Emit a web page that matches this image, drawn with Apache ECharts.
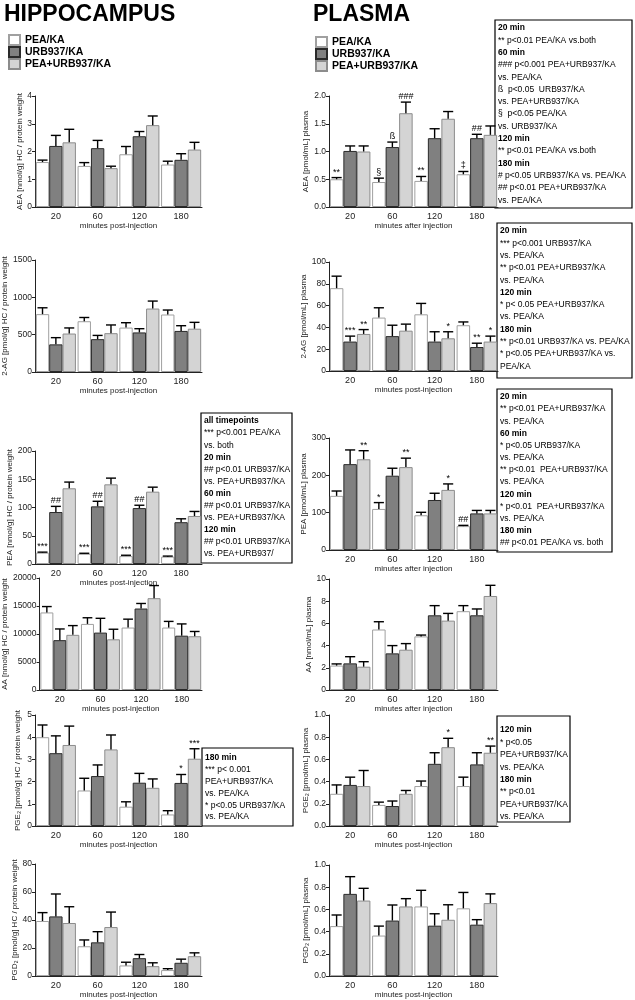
<!DOCTYPE html>
<html>
<head>
<meta charset="utf-8">
<title>Hippocampus / Plasma</title>
<script src="https://cdn.jsdelivr.net/npm/echarts@6/dist/echarts.min.js"></script>
<style>
  html, body { margin: 0; padding: 0; background: #fff; }
  #chart { width: 635px; height: 1000px; }
</style>
</head>
<body>
<div id="chart"></div>
<script>
const categories = ['20', '60', '120', '180'];
const seriesNames = ['PEA/KA', 'URB937/KA', 'PEA+URB937/KA'];

// hippocampus (rows: PEA/KA, URB937/KA, PEA+URB937/KA)
const aeaHcMean = [[1.62, 1.48, 1.90, 1.53], [2.20, 2.12, 2.55, 1.70], [2.33, 1.40, 2.95, 2.07]];
const aeaHcErr = [[0.07, 0.12, 0.28, 0.12], [0.38, 0.28, 0.17, 0.22], [0.47, 0.07, 0.33, 0.26]];

const agHcMean = [[775, 680, 595, 770], [370, 440, 530, 550], [515, 520, 850, 580]];
const agHcErr = [[85, 50, 65, 60], [90, 50, 50, 70], [75, 110, 100, 85]];

const peaHcMean = [[20, 18, 14, 13], [92, 102, 99, 74], [134, 141, 128, 85]];
const peaHcErr = [[1, 1, 1.5, 1], [10, 9, 5, 6], [11, 11, 8, 8]];
const peaHcSig = [['***', '***', '***', '***'], ['##', '##', '##', ''], ['', '', '', '']];

const aaHcMean = [[13850, 11800, 11150, 11150], [8900, 10250, 14550, 9700], [9850, 9050, 16400, 9600]];
const aaHcErr = [[1050, 1100, 1500, 1100], [2000, 2550, 900, 2100], [1650, 1800, 2250, 850]];

const pge2HcMean = [[4.0, 1.6, 0.87, 0.52], [3.28, 2.25, 1.95, 1.94], [3.65, 3.45, 1.72, 3.03]];
const pge2HcErr = [[0.55, 0.55, 0.22, 0.17], [0.78, 0.5, 0.42, 0.38], [0.85, 0.65, 0.4, 0.45]];
const pge2HcSig = [['', '', '', ''], ['', '', '', '*'], ['', '', '', '***']];

const pgd2HcMean = [[39.3, 21.3, 7.6, 4.3], [42.6, 24.1, 12.8, 9.5], [37.9, 35, 7.1, 14.2]];
const pgd2HcErr = [[6, 4.5, 2.3, 1], [16, 7.6, 2.6, 2.6], [11.6, 10.7, 2.4, 2.4]];

// plasma
const aeaPlMean = [[0.50, 0.45, 0.47, 0.59], [1.01, 1.08, 1.24, 1.24], [1.00, 1.69, 1.59, 1.30]];
const aeaPlErr = [[0.03, 0.07, 0.08, 0.05], [0.09, 0.09, 0.17, 0.07], [0.10, 0.20, 0.13, 0.16]];
const aeaPlSig = [['**', '§', '**', '‡'], ['', 'ß', '', '##'], ['', '###', '', '']];

const agPlMean = [[76, 49, 52, 42], [27, 32, 27, 22], [34, 37, 30, 27]];
const agPlErr = [[11, 9, 10, 3], [5, 10, 9, 3.5], [4, 6, 6, 5]];
const agPlSig = [['', '', '', ''], ['***', '', '', '**'], ['**', '', '*', '*']];

const peaPlMean = [[145, 110, 93, 64], [230, 199, 134, 98], [243, 222, 161, 98]];
const peaPlErr = [[13, 17, 8, 2], [38, 20, 18, 8], [23, 24, 16, 8]];
const peaPlSig = [['', '*', '', '##'], ['', '', '', ''], ['**', '**', '*', '']];

const aaPlMean = [[2.2, 5.45, 4.83, 7.1], [2.4, 3.3, 6.73, 6.73], [2.1, 3.63, 6.25, 8.47]];
const aaPlErr = [[0.15, 0.7, 0.12, 0.5], [0.6, 0.7, 0.87, 0.57], [0.45, 0.55, 0.65, 0.96]];

const pge2PlMean = [[0.29, 0.19, 0.36, 0.36], [0.37, 0.18, 0.56, 0.555], [0.36, 0.29, 0.71, 0.66]];
const pge2PlErr = [[0.08, 0.025, 0.045, 0.08], [0.07, 0.045, 0.10, 0.105], [0.14, 0.03, 0.08, 0.06]];
const pge2PlSig = [['', '', '', ''], ['', '', '', ''], ['', '', '*', '**']];

const pgd2PlMean = [[0.45, 0.365, 0.627, 0.61], [0.74, 0.50, 0.454, 0.463], [0.68, 0.627, 0.507, 0.657]];
const pgd2PlErr = [[0.10, 0.085, 0.145, 0.143], [0.155, 0.14, 0.107, 0.045], [0.11, 0.07, 0.135, 0.083]];

const noSig = [['', '', '', ''], ['', '', '', ''], ['', '', '', '']];

// statistics boxes
const boxAeaPlasma = ['20 min', '** p<0.01 PEA/KA vs.both', '60 min', '### p<0.001 PEA+URB937/KA', 'vs. PEA/KA',
  'ß  p<0.05  URB937/KA', 'vs. PEA+URB937/KA', '§  p<0.05 PEA/KA', 'vs. URB937/KA', '120 min',
  '** p<0.01 PEA/KA vs.both', '180 min', '# p<0.05 URB937/KA vs. PEA/KA', '## p<0.01 PEA+URB937/KA', 'vs. PEA/KA'];
const boxAgPlasma = ['20 min', '*** p<0.001 URB937/KA', 'vs. PEA/KA', '** p<0.01 PEA+URB937/KA', 'vs. PEA/KA',
  '120 min', '* p< 0.05 PEA+URB937/KA', 'vs. PEA/KA', '180 min', '** p<0.01 URB937/KA vs. PEA/KA',
  '* p<0.05 PEA+URB937/KA vs.', 'PEA/KA'];
const boxPeaHc = ['all timepoints', '*** p<0.001 PEA/KA', 'vs. both', '20 min', '## p<0.01 URB937/KA',
  'vs. PEA+URB937/KA', '60 min', '## p<0.01 URB937/KA', 'vs. PEA+URB937/KA', '120 min',
  '## p<0.01 URB937/KA', 'vs. PEA+URB937/'];
const boxPeaPlasma = ['20 min', '** p<0.01 PEA+URB937/KA', 'vs. PEA/KA', '60 min', '* p<0.05 URB937/KA',
  'vs. PEA/KA', '** p<0.01  PEA+URB937/KA', 'vs. PEA/KA', '120 min', '* p<0.01  PEA+URB937/KA',
  'vs. PEA/KA', '180 min', '## p<0.01 PEA/KA vs. both'];
const boxPge2Hc = ['180 min', '*** p< 0.001', 'PEA+URB937/KA', 'vs. PEA/KA', '* p<0.05 URB937/KA', 'vs. PEA/KA'];
const boxPge2Plasma = ['120 min', '* p<0.05', 'PEA+URB937/KA', 'vs. PEA/KA', '180 min', '** p<0.01',
  'PEA+URB937/KA', 'vs. PEA/KA'];

const panels = [
  { mean: aeaHcMean, err: aeaHcErr, sig: noSig, yName: 'AEA [nmol/g] HC / protein weight', xName: 'minutes post-injection', max: 4, step: 1, digits: 0 },
  { mean: agHcMean, err: agHcErr, sig: noSig, yName: '2-AG [pmol/g] HC / protein weight', xName: 'minutes post-injection', max: 1500, step: 500, digits: 0 },
  { mean: peaHcMean, err: peaHcErr, sig: peaHcSig, yName: 'PEA [nmol/g] HC / protein weight', xName: 'minutes post-injection', max: 200, step: 50, digits: 0 },
  { mean: aaHcMean, err: aaHcErr, sig: noSig, yName: 'AA [nmol/g] HC / protein weight', xName: 'minutes post-injection', max: 20000, step: 5000, digits: 0 },
  { mean: pge2HcMean, err: pge2HcErr, sig: pge2HcSig, yName: 'PGE₂ [pmol/g] HC / protein weight', xName: 'minutes post-injection', max: 5, step: 1, digits: 0 },
  { mean: pgd2HcMean, err: pgd2HcErr, sig: noSig, yName: 'PGD₂ [pmol/g] HC / protein weight', xName: 'minutes post-injection', max: 80, step: 20, digits: 0 },
  { mean: aeaPlMean, err: aeaPlErr, sig: aeaPlSig, yName: 'AEA [pmol/mL] plasma', xName: 'minutes after injection', max: 2, step: 0.5, digits: 1 },
  { mean: agPlMean, err: agPlErr, sig: agPlSig, yName: '2-AG [pmol/mL] plasma', xName: 'minutes post-injection', max: 100, step: 20, digits: 0 },
  { mean: peaPlMean, err: peaPlErr, sig: peaPlSig, yName: 'PEA [pmol/mL] plasma', xName: 'minutes after injection', max: 300, step: 100, digits: 0 },
  { mean: aaPlMean, err: aaPlErr, sig: noSig, yName: 'AA [nmol/mL] plasma', xName: 'minutes after injection', max: 10, step: 2, digits: 0 },
  { mean: pge2PlMean, err: pge2PlErr, sig: pge2PlSig, yName: 'PGE₂ [pmol/mL] plasma', xName: 'minutes post-injection', max: 1, step: 0.2, digits: 1 },
  { mean: pgd2PlMean, err: pgd2PlErr, sig: noSig, yName: 'PGD₂ [pmol/mL] plasma', xName: 'minutes post-injection', max: 1, step: 0.2, digits: 1 }
];

const layout = [
  { left: 35, top: 96, height: 111, nameGap: 10 },
  { left: 35, top: 260, height: 112, nameGap: 18 },
  { left: 35, top: 451, height: 113, nameGap: 18 },
  { left: 35, top: 578, height: 112, nameGap: 24 },
  { left: 35, top: 715, height: 111, nameGap: 13 },
  { left: 35, top: 864, height: 113, nameGap: 14 },
  { left: 329, top: 96, height: 111, nameGap: 10 },
  { left: 329, top: 262, height: 109, nameGap: 18 },
  { left: 329, top: 438, height: 112, nameGap: 17 },
  { left: 329, top: 579, height: 111, nameGap: 12 },
  { left: 329, top: 715, height: 111, nameGap: 15 },
  { left: 329, top: 865, height: 112, nameGap: 18 }
];

const FONT = "'Liberation Sans', Arial, sans-serif";
const barStyles = [
  { color: '#ffffff', borderColor: '#a0a0a0', borderWidth: 1 },
  { color: '#808080', borderColor: '#2a2a2a', borderWidth: 1 },
  { color: '#d4d4d4', borderColor: '#8c8c8c', borderWidth: 1 }
];
const CAT_GAP = 0.04;

function errorRenderer(panel) {
  return function (params, api) {
    const cat = api.value(0), k = api.value(1), val = api.value(2), e = api.value(3);
    const base = api.coord([cat, val]);
    const top = api.coord([cat, val + e]);
    const band = api.size([1, 0])[0];
    const bw = band * (1 - CAT_GAP) / 3;
    const x = base[0] + (k - 1) * bw;
    const cap = bw * 0.75;
    const children = [];
    if (e > 0) {
      children.push({ type: 'line', shape: { x1: x, y1: base[1], x2: x, y2: top[1] }, style: { stroke: '#000', lineWidth: 1.4 } });
      children.push({ type: 'line', shape: { x1: x - cap / 2, y1: top[1], x2: x + cap / 2, y2: top[1] }, style: { stroke: '#000', lineWidth: 1.4 } });
    }
    const s = panel.sig[k][cat];
    if (s) {
      children.push({ type: 'text', x: x, y: top[1] - 1, style: { text: s, align: 'center', verticalAlign: 'bottom', font: '9px ' + FONT, fill: '#000' } });
    }
    return { type: 'group', children: children };
  };
}

function statBox(x, y, w, h, lines, firstY, lh) {
  const children = [{ type: 'rect', shape: { x: x, y: y, width: w, height: h }, style: { fill: '#fff', stroke: '#000', lineWidth: 1.2 } }];
  lines.forEach((t, i) => {
    const bold = /^(\d+ min|all timepoints)$/.test(t);
    children.push({
      type: 'text', x: x + 3, y: firstY + i * lh,
      style: { text: t, font: (bold ? 'bold ' : '') + '8.5px ' + FONT, fill: '#000', verticalAlign: 'middle' }
    });
  });
  return { type: 'group', z: 100, children: children };
}

const grids = [], xAxes = [], yAxes = [], series = [];
panels.forEach((p, g) => {
  const L = layout[g];
  grids.push({ left: L.left, top: L.top, width: L.left < 100 ? 167 : 169, height: L.height });
  xAxes.push({
    type: 'category', gridIndex: g, data: categories,
    name: p.xName, nameLocation: 'middle', nameGap: 14,
    nameTextStyle: { fontSize: 8, color: '#222', fontFamily: FONT },
    axisLine: { show: true, lineStyle: { color: '#222', width: 1 } },
    axisTick: { show: false },
    axisLabel: { fontSize: 9, color: '#222', margin: 5, fontFamily: FONT }
  });
  yAxes.push({
    type: 'value', gridIndex: g, min: 0, max: p.max, interval: p.step,
    name: p.yName, nameLocation: 'middle', nameGap: L.nameGap,
    nameTextStyle: { fontSize: 8, color: '#222', fontFamily: FONT },
    axisLine: { show: true, lineStyle: { color: '#222', width: 1 } },
    axisTick: { show: true, length: 3, lineStyle: { color: '#222' } },
    splitLine: { show: false },
    axisLabel: { fontSize: 8.5, color: '#222', margin: 3, fontFamily: FONT,
      formatter: v => v.toFixed(p.digits) }
  });
  for (let k = 0; k < 3; k++) {
    series.push({
      type: 'bar', name: seriesNames[k], xAxisIndex: g, yAxisIndex: g,
      data: p.mean[k], barGap: '0%', barCategoryGap: (CAT_GAP * 100) + '%',
      itemStyle: barStyles[k], silent: true
    });
  }
  const errData = [];
  for (let k = 0; k < 3; k++) {
    for (let c = 0; c < categories.length; c++) errData.push([c, k, p.mean[k][c], p.err[k][c]]);
  }
  series.push({
    type: 'custom', xAxisIndex: g, yAxisIndex: g, data: errData, z: 5,
    encode: { x: 0, y: 2 }, renderItem: errorRenderer(p), clip: false, silent: true
  });
});

const legendBase = {
  orient: 'vertical', data: seriesNames, icon: 'rect', itemWidth: 11, itemHeight: 10,
  itemGap: 0, padding: 0, selectedMode: false,
  textStyle: { fontSize: 10.5, fontWeight: 'bold', color: '#000', fontFamily: FONT, lineHeight: 11.5 }
};

const option = {
  animation: false,
  backgroundColor: '#fff',
  title: [
    { text: 'HIPPOCAMPUS', left: 4, top: 3, padding: 0, textStyle: { fontSize: 23, fontWeight: 'bold', color: '#000', fontFamily: FONT } },
    { text: 'PLASMA', left: 313, top: 3, padding: 0, textStyle: { fontSize: 23, fontWeight: 'bold', color: '#000', fontFamily: FONT } }
  ],
  legend: [
    Object.assign({ left: 8, top: 34 }, legendBase),
    Object.assign({ left: 315, top: 36 }, legendBase)
  ],
  grid: grids,
  xAxis: xAxes,
  yAxis: yAxes,
  series: series,
  graphic: [
    statBox(495, 20, 137, 188, boxAeaPlasma, 28, 12.3),
    statBox(497, 223, 135, 155, boxAgPlasma, 231, 12.3),
    statBox(201, 413, 91, 150, boxPeaHc, 421, 12.1),
    statBox(497, 389, 115, 163, boxPeaPlasma, 397, 12.15),
    statBox(202, 748, 91, 78, boxPge2Hc, 758, 11.8),
    statBox(497, 716, 73, 106, boxPge2Plasma, 730, 12.4)
  ]
};

const chart = echarts.init(document.getElementById('chart'));
chart.setOption(option);
</script>
</body>
</html>
